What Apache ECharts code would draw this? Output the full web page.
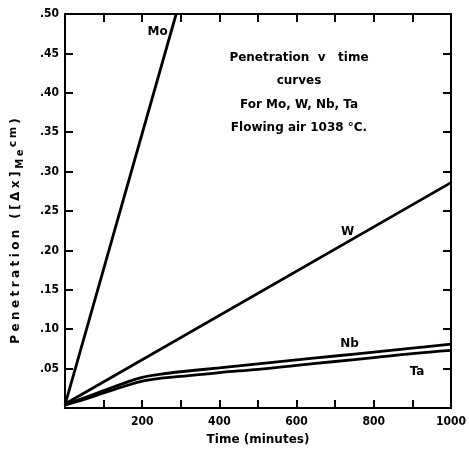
<!DOCTYPE html>
<html><head><meta charset="utf-8">
<script src="https://cdn.jsdelivr.net/npm/echarts@6/dist/echarts.min.js"></script>
<style>html,body{margin:0;padding:0;background:#fff}#c{width:469px;height:454px}</style>
</head><body><div id="c"></div>
<script>
// Data (time in minutes, penetration in cm)
const moTime = [0, 288];
const moVal = [0.004, 0.5];
const wTime = [0, 1000];
const wVal = [0.005, 0.286];
const nbTime = [0, 50, 100, 150, 200, 250, 300, 400, 500, 600, 700, 800, 900, 1000];
const nbVal = [0.004, 0.013, 0.022, 0.031, 0.039, 0.043, 0.046, 0.051, 0.056, 0.061, 0.066, 0.071, 0.076, 0.081];
const taTime = [0, 50, 100, 150, 200, 250, 300, 400, 500, 600, 700, 800, 900, 1000];
const taVal = [0.004, 0.011, 0.019, 0.027, 0.034, 0.038, 0.040, 0.045, 0.049, 0.054, 0.059, 0.064, 0.069, 0.073];
const curveLabels = ['Mo', 'W', 'Nb', 'Ta'];
const labelTime = [240, 732, 737, 912];
const labelVal = [0.477, 0.223, 0.081, 0.046];
const xTickLabels = [200, 400, 600, 800, 1000];

const zip = (a, b) => a.map((v, i) => [v, b[i]]);
const FONT = 'DejaVu Sans Condensed';
const WIDE = 'DejaVu Sans';
const lineStyle = {color: '#000', width: 2.8};
const mkLine = (name, t, v, smooth) => ({
  name, type: 'line', data: zip(t, v), showSymbol: false, smooth: smooth,
  lineStyle, xAxisIndex: 0, yAxisIndex: 0, z: 3
});
const axisCommon = () => ({
  axisLine: {show: true, onZero: false, lineStyle: {color: '#000', width: 2}},
  axisTick: {show: true, inside: true, length: 8, lineStyle: {color: '#000', width: 2}},
  splitLine: {show: false}
});
// letter-spaced rich text for the y-axis title
const spaced = (str, style) => Array.from(str).map(c => '{' + style + '|' + c + '}').join('');
const yTitle = spaced('Penetration ([Δx]', 'n') + spaced('Me', 's') + spaced('cm', 'p') + spaced(')', 'n');

const chart = echarts.init(document.getElementById('c'));
chart.setOption({
  animation: false,
  grid: {left: 65, right: 13, top: 14, bottom: 46},
  xAxis: [
    Object.assign({type: 'value', min: 0, max: 1000, interval: 100, position: 'bottom',
      axisLabel: {color: '#000', fontFamily: FONT, fontWeight: 'bold', fontSize: 12, margin: 8,
        formatter: v => xTickLabels.includes(v) ? String(v) : ''},
      name: 'Time (minutes)', nameLocation: 'middle', nameGap: 26,
      nameTextStyle: {color: '#000', fontFamily: WIDE, fontWeight: 'bold', fontSize: 12}}, axisCommon()),
    Object.assign({type: 'value', min: 0, max: 1000, interval: 100, position: 'top',
      axisLabel: {show: false}}, axisCommon())
  ],
  yAxis: [
    Object.assign({type: 'value', min: 0, max: 0.5, interval: 0.05, position: 'left',
      axisLabel: {color: '#000', fontFamily: FONT, fontWeight: 'bold', fontSize: 12, margin: 6,
        formatter: v => v > 0.001 ? '.' + String(Math.round(v * 100)).padStart(2, '0') : ''}}, axisCommon()),
    Object.assign({type: 'value', min: 0, max: 0.5, interval: 0.05, position: 'right',
      axisLabel: {show: false}}, axisCommon())
  ],
  series: [
    mkLine('Mo', moTime, moVal, false),
    mkLine('W', wTime, wVal, false),
    mkLine('Nb', nbTime, nbVal, 0.4),
    mkLine('Ta', taTime, taVal, 0.4),
    {type: 'scatter', symbolSize: 1, silent: true, itemStyle: {opacity: 0},
      data: curveLabels.map((s, i) => ({value: [labelTime[i], labelVal[i]], name: s})),
      label: {show: true, position: 'inside', formatter: p => p.name, color: '#000', opacity: 1,
        fontFamily: WIDE, fontWeight: 'bold', fontSize: 12}}
  ],
  graphic: [
    {type: 'text', x: 299, y: 46, silent: true,
      style: {text: 'Penetration  v   time\ncurves\nFor Mo, W, Nb, Ta\nFlowing air 1038 °C.',
        fill: '#000', font: 'bold 12px "' + WIDE + '"', align: 'center', verticalAlign: 'top', lineHeight: 23.5}},
    {type: 'text', x: 16, y: 231, rotation: Math.PI / 2, silent: true,
      style: {text: yTitle, align: 'center', verticalAlign: 'middle',
        rich: {
          n: {font: 'bold 12px "' + WIDE + '"', fill: '#000', padding: [0, 1.7, 0, 1.7]},
          s: {font: 'bold 10px "' + WIDE + '"', fill: '#000', padding: [9, 1.2, 0, 1.2]},
          p: {font: 'bold 11px "' + WIDE + '"', fill: '#000', padding: [0, 1.2, 5, 1.2]}
        }}}
  ]
});
</script></body></html>
